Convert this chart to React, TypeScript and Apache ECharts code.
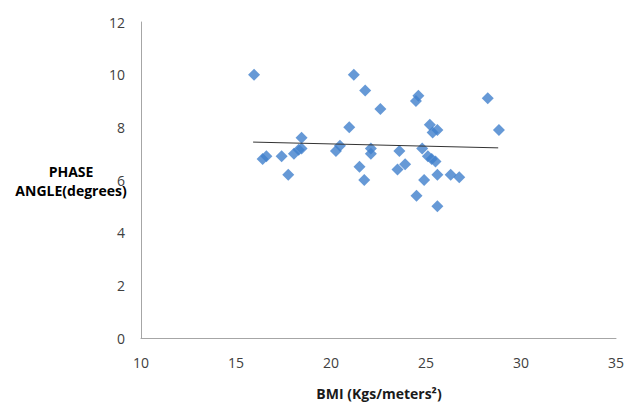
import React, { useEffect, useRef } from "react";
import * as echarts from "echarts";

const bmi = [
  15.95, 21.2, 21.8, 22.6, 24.6, 24.47, 28.25, 28.84, 20.96, 25.2, 25.35, 25.6,
  18.45, 18.45, 20.47, 20.26, 22.1, 22.1, 23.6, 24.8, 25.1, 25.3, 25.5, 21.5,
  21.75, 23.5, 23.9, 24.9, 25.6, 26.3, 26.75, 24.5, 25.6, 16.4, 16.6, 17.4,
  17.75, 18.05, 18.3,
];
const phaseAngle = [
  10.0, 10.0, 9.4, 8.7, 9.2, 9.0, 9.1, 7.9, 8.0, 8.1, 7.8, 7.9,
  7.6, 7.2, 7.3, 7.1, 7.2, 7.0, 7.1, 7.2, 6.9, 6.8, 6.7, 6.5,
  6.0, 6.4, 6.6, 6.0, 6.2, 6.2, 6.1, 5.4, 5.0, 6.8, 6.9, 6.9,
  6.2, 7.0, 7.15,
];
const trendX = [15.9, 28.8];
const trendY = [7.44, 7.22];

const xTitle = "BMI (Kgs/meters²)";
const yTitleLines = ["PHASE", "ANGLE(degrees)"];

export default function App() {
  const ref = useRef<HTMLDivElement>(null);
  useEffect(() => {
    if (!ref.current) return;
    const chart = echarts.init(ref.current, null, { renderer: "svg" });
    const font = "'Open Sans', 'Liberation Sans', sans-serif";
    chart.setOption({
      animation: false,
      backgroundColor: "#ffffff",
      grid: { left: 141, right: 14, top: 22, bottom: 65, containLabel: false },
      xAxis: {
        type: "value",
        min: 10,
        max: 35,
        interval: 5,
        axisLine: { show: true, onZero: false, lineStyle: { color: "#a6a6a6", width: 1 } },
        axisTick: { show: false },
        splitLine: { show: false },
        axisLabel: { color: "#404040", fontSize: 14, fontFamily: font, margin: 17 },
      },
      yAxis: {
        type: "value",
        min: 0,
        max: 12,
        interval: 2,
        axisLine: { show: true, lineStyle: { color: "#a6a6a6", width: 1 } },
        axisTick: { show: false },
        splitLine: { show: false },
        axisLabel: { color: "#404040", fontSize: 14, fontFamily: font, margin: 16 },
      },
      graphic: [
        {
          type: "text",
          x: 379,
          y: 393,
          style: {
            text: xTitle,
            fill: "#1a1a1a",
            font: `bold 14px ${font}`,
            textAlign: "center",
            textVerticalAlign: "middle",
          },
        },
        {
          type: "text",
          x: 71,
          y: 171,
          style: {
            text: yTitleLines[0],
            fill: "#000000",
            font: `bold 14px ${font}`,
            textAlign: "center",
            textVerticalAlign: "middle",
          },
        },
        {
          type: "text",
          x: 71,
          y: 190,
          style: {
            text: yTitleLines[1],
            fill: "#000000",
            font: `bold 14px ${font}`,
            textAlign: "center",
            textVerticalAlign: "middle",
          },
        },
      ],
      series: [
        {
          type: "scatter",
          symbol: "diamond",
          symbolSize: 12,
          itemStyle: { color: "#4080cc" },
          data: bmi.map((x, i) => [x, phaseAngle[i]]),
          z: 2,
        },
        {
          type: "line",
          symbol: "none",
          lineStyle: { color: "#333333", width: 1 },
          data: trendX.map((x, i) => [x, trendY[i]]),
          z: 3,
        },
      ],
    });
    return () => chart.dispose();
  }, []);
  return (
    <div
      ref={ref}
      style={{ position: "fixed", left: 0, top: 0, width: 630, height: 403 }}
    />
  );
}
